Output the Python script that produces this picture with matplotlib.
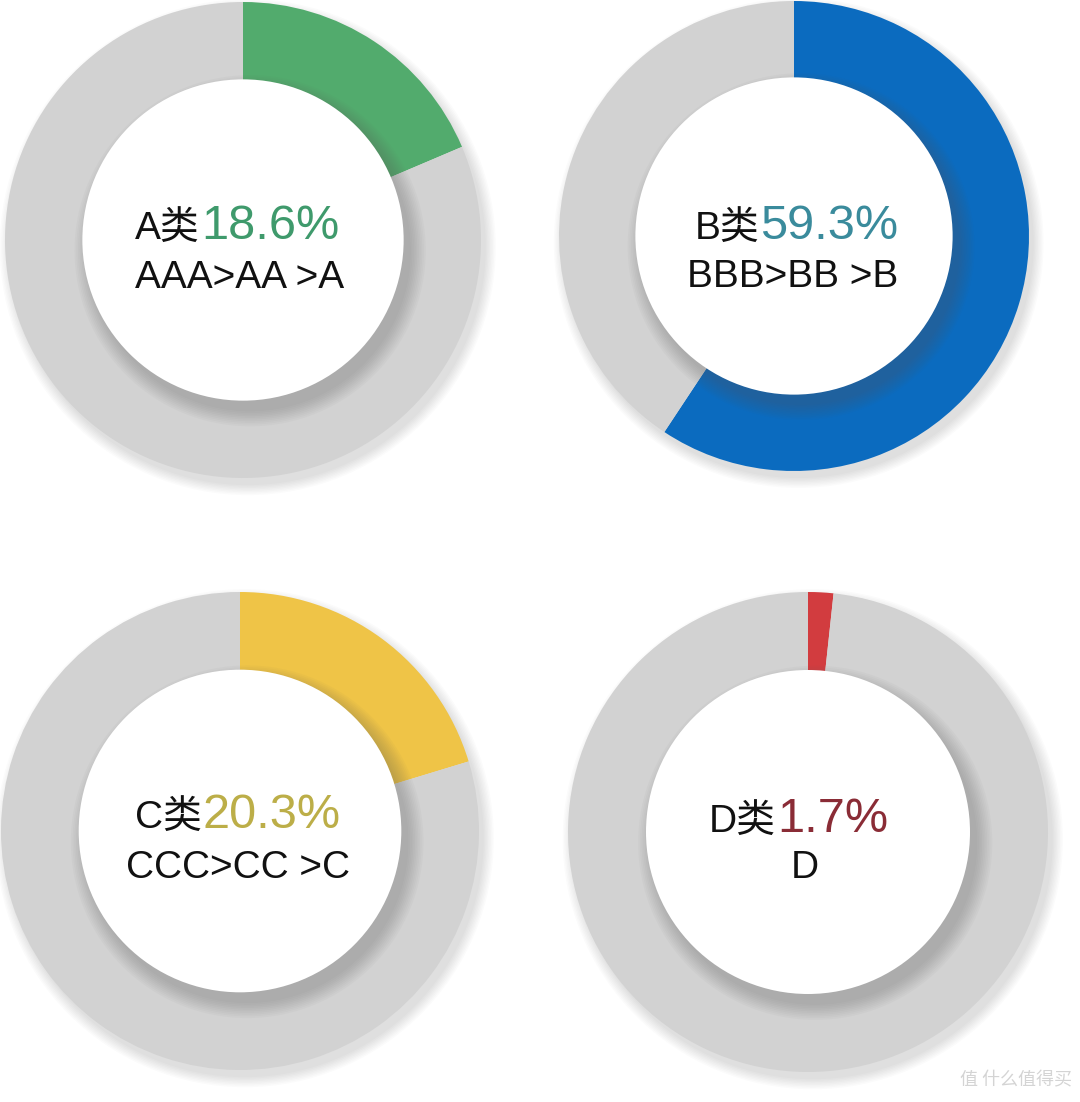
import matplotlib
matplotlib.use("Agg")
import matplotlib.pyplot as plt
from matplotlib.patches import Circle

# ---- data ----
categories = ["A", "B", "C", "D"]
shares = [18.6, 59.3, 20.3, 1.7]
pct_labels = ["18.6%", "59.3%", "20.3%", "1.7%"]
sub_labels = ["AAA>AA >A", "BBB>BB >B", "CCC>CC >C", "D"]
slice_colors = ["#52ab6d", "#0b6bbf", "#efc447", "#d23c3f"]
pct_text_colors = ["#3f9a6c", "#3a8b9c", "#bcae48", "#8a2c36"]
rest_color = "#d2d2d2"

# ---- layout (pixels) ----
W, H = 1080, 1102
centers = [(243, 240), (794, 236), (240, 831), (808, 832)]
radii = [238, 235, 239, 240]
inner_ratio = 0.675
split_x = [200, 759, 202, 776]
line1_y = [239, 239, 828, 832]
line2_x = [240, 793, 238, 805]
line2_y = [288, 287, 878, 878]

fam = ["Liberation Sans", "Noto Sans CJK SC", "DejaVu Sans"]

fig = plt.figure(figsize=(W / 100, H / 100), dpi=100)
fig.patch.set_facecolor("white")

M = 1.15
for i, cat in enumerate(categories):
    cx, cy = centers[i]
    R = radii[i]
    S = R * M
    ax = fig.add_axes([(cx - S) / W, 1 - (cy + S) / H, 2 * S / W, 2 * S / H])

    # outer soft shadow
    for k in range(8):
        ax.add_patch(Circle((0.02, -0.03), 1.0 + 0.006 * k, color="#808080",
                            alpha=0.03, lw=0, zorder=0))

    ax.pie([shares[i], 100 - shares[i]], colors=[slice_colors[i], rest_color],
           startangle=90, counterclock=False, radius=1.0,
           wedgeprops=dict(width=1.0, linewidth=0))

    # inner circle shadow cast on the ring
    for k in range(10):
        ax.add_patch(Circle((0.03, -0.045), inner_ratio + 0.007 * k, color="#606060",
                            alpha=0.035, lw=0, zorder=5))
    ax.add_patch(Circle((0, 0), inner_ratio, color="white", lw=0, zorder=6))

    ax.set_xlim(-M, M)
    ax.set_ylim(-M, M)
    ax.set_aspect("equal")
    ax.axis("off")
    ax.patch.set_alpha(0)

    def to_data(px, py):
        return (px - cx) / R, -(py - cy) / R

    x1, y1 = to_data(split_x[i], line1_y[i])
    ax.text(x1, y1, cat + "类", ha="right", va="baseline", fontsize=28,
            family=fam, color="#111111", zorder=10)
    ax.text(x1 + 1 / R, y1, pct_labels[i], ha="left", va="baseline", fontsize=35,
            family=fam, color=pct_text_colors[i], zorder=10)
    x2, y2 = to_data(line2_x[i], line2_y[i])
    ax.text(x2, y2, sub_labels[i], ha="center", va="baseline", fontsize=28,
            family=fam, color="#111111", zorder=10)

fig.text(1072 / W, 1 - 1085 / H, "值 什么值得买", ha="right", va="baseline",
         fontsize=13, family=["Noto Sans CJK SC", "DejaVu Sans"], color="#d4d4d4")

fig.savefig("out.png", dpi=100, facecolor="white")
